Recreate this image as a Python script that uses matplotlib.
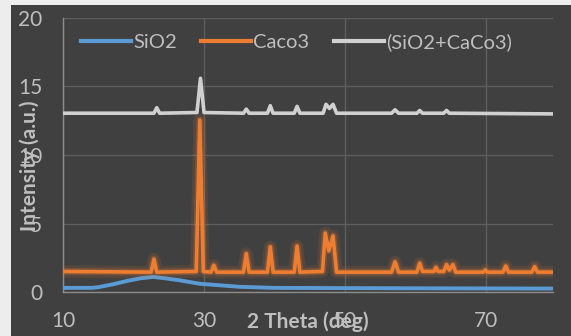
import matplotlib
matplotlib.use("Agg")
import matplotlib.pyplot as plt
import matplotlib.patheffects as pe
from matplotlib.patches import Rectangle

plt.rcParams["font.family"] = ["Lato", "DejaVu Sans"]

# 2 theta (deg) / intensity points
sio2_x = [10, 14, 15, 17, 19, 21, 22.8, 24.5, 26.6, 29.4, 32, 35, 40, 60, 79.5]
sio2_y = [0.3, 0.3, 0.35, 0.55, 0.8, 1.0, 1.1, 1.0, 0.85, 0.6, 0.5, 0.38, 0.3, 0.27, 0.25]

caco3_x = [10, 22.5, 22.9, 23.3, 28.9, 29.4, 29.9, 31.0, 31.4, 31.8, 35.6, 36.0, 36.4,
           39.0, 39.4, 39.8, 42.8, 43.2, 43.6, 46.8, 47.2, 47.7, 48.3, 48.8,
           56.6, 57.1, 57.6, 60.2, 60.6, 61.0, 62.6, 62.9, 63.2, 64.0, 64.4, 64.8,
           65.3, 65.7, 69.6, 69.9, 70.2, 72.4, 72.8, 73.2, 76.5, 76.9, 77.3, 79.5]
caco3_y = [1.5, 1.45, 2.4, 1.45, 1.5, 12.55, 1.5, 1.45, 1.95, 1.45, 1.45, 2.8, 1.45,
           1.45, 3.3, 1.45, 1.45, 3.35, 1.45, 1.5, 4.3, 3.0, 4.1, 1.45,
           1.45, 2.2, 1.45, 1.45, 2.1, 1.5, 1.5, 1.8, 1.5, 1.5, 2.0, 1.6,
           2.0, 1.45, 1.45, 1.6, 1.45, 1.45, 1.9, 1.45, 1.45, 1.85, 1.45, 1.45]

mix_x = [10, 22.9, 23.3, 23.7, 29.0, 29.5, 30.0, 35.6, 36.0, 36.4, 39.0, 39.4, 39.8,
         42.8, 43.2, 43.6, 46.9, 47.3, 47.8, 48.3, 48.8, 56.6, 57.1, 57.6,
         60.2, 60.6, 61.0, 64.0, 64.4, 64.8, 79.5]
mix_y = [13.05, 13.05, 13.45, 13.05, 13.1, 15.6, 13.1, 13.05, 13.35, 13.05, 13.05, 13.6, 13.05,
         13.05, 13.55, 13.05, 13.05, 13.7, 13.4, 13.7, 13.05, 13.05, 13.3, 13.05,
         13.05, 13.25, 13.05, 13.05, 13.25, 13.05, 13.0]

labels = ["SiO2", "Caco3", "(SiO2+CaCo3)"]
colors = ["#5B9BD5", "#ED7D31", "#D0D0D0"]
bg = "#404040"
txt = "#BFBFBF"

fig = plt.figure(figsize=(5.71, 3.36), dpi=100, facecolor="#EDEDED")
# dark chart area, the picture has a light strip on the left and top
fig.patches.append(Rectangle((11 / 571, 0), 1, 1 - 5 / 336, transform=fig.transFigure,
                             facecolor=bg, edgecolor="none", zorder=-10))
ax = fig.add_axes([63 / 571, 44 / 336, 490 / 571, 274 / 336])
ax.set_facecolor(bg)

glow = [pe.Stroke(linewidth=9, foreground="#ED7D31", alpha=0.12),
        pe.Stroke(linewidth=5, foreground="#ED7D31", alpha=0.25), pe.Normal()]
ax.plot(sio2_x, sio2_y, color=colors[0], lw=2.8, label=labels[0], zorder=3)
ax.plot(caco3_x, caco3_y, color=colors[1], lw=2.6, label=labels[1], zorder=3,
        path_effects=glow)
ax.plot(mix_x, mix_y, color=colors[2], lw=2.6, label=labels[2], zorder=3)

ax.set_xlim(10, 79.5)
ax.set_ylim(0, 20)
ax.set_xticks([10, 30, 50, 70])
ax.set_yticks([0, 5, 10, 15, 20])
ax.grid(True, color="#5E5E5E", lw=1)
ax.set_axisbelow(True)
for s in ["top", "right"]:
    ax.spines[s].set_visible(False)
for s in ["left", "bottom"]:
    ax.spines[s].set_color("#8C8C8C")
    ax.spines[s].set_linewidth(1)
ax.tick_params(length=0, colors=txt, labelsize=15)
ax.tick_params(axis="y", pad=15)
ax.tick_params(axis="x", pad=14)

ax.set_xlabel("2 Theta (deg)", color=txt, fontsize=15, fontweight="bold")
ax.xaxis.set_label_coords(0.5, -0.11)
ax.xaxis.label.set_va("center")
ax.set_ylabel("Intensity (a.u.)", color=txt, fontsize=15, fontweight="bold")
ax.yaxis.set_label_coords(-0.067, 0.46)
ax.yaxis.label.set_va("center")

leg = ax.legend(loc="upper left", bbox_to_anchor=(0.02, 0.975), ncol=3, frameon=False,
                fontsize=14.5, handlelength=2.5, handletextpad=0.1, columnspacing=1.2,
                borderaxespad=0)
for t in leg.get_texts():
    t.set_color(txt)
for h in leg.get_lines():
    h.set_linewidth(3)
    h.set_path_effects([])

fig.savefig("out.png", dpi=100, facecolor=fig.get_facecolor())
